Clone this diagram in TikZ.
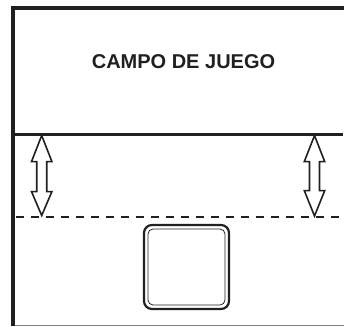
\documentclass[tikz,border=0pt]{standalone}
\usepackage{fontspec}
\setmainfont{Liberation Sans}
\definecolor{ink}{HTML}{231F20}
\begin{document}
\begin{tikzpicture}[x=1pt,y=-1pt,
  frame/.style={draw=ink,line width=4pt,line join=miter},
  fieldline/.style={draw=ink,line width=2.5pt},
  limitline/.style={draw=ink,line width=2pt,dash pattern=on 8.3pt off 6.7pt},
  hollowarrow/.style={draw=ink,line width=1.6pt,line join=miter,fill=white},
  label/.style={font=\bfseries\fontsize{20}{24}\selectfont,text=ink,inner sep=0pt,anchor=base}]
\useasboundingbox (0,0) rectangle (344,326);
\fill[white] (0,0) rectangle (344,326);
% named points
\coordinate (bl) at (13,326);
\coordinate (tl) at (13,8.3);
\coordinate (tr) at (344,8.3);
\coordinate (ml) at (13,134.6);
\coordinate (mr) at (343,134.6);
\coordinate (dl) at (15.7,216.5);
\coordinate (dr) at (344,216.5);
\coordinate (gl) at (13,325.4);
\coordinate (gr) at (344,325.4);
% lines
\draw[draw=gray,line width=1pt] (gl) -- (gr);
\draw[frame] (bl) -- (tl) -- (tr);
\draw[fieldline] (ml) -- (mr);
\draw[limitline] (dl) -- (dr);
% arrows
\foreach \cx/\ta/\hb/\hc/\tb in {41.7/135.5/161.6/191.6/215.5, 314.5/135.5/161.6/190.6/216}{
  \draw[hollowarrow] (\cx,\ta) -- (\cx+10.2,\hb) -- (\cx+5,\hb) -- (\cx+5,\hc) -- (\cx+10.2,\hc)
    -- (\cx,\tb) -- (\cx-10.2,\hc) -- (\cx-5,\hc) -- (\cx-5,\hb) -- (\cx-10.2,\hb) -- cycle;
}
% box
\draw[draw=ink,line width=2.2pt,rounded corners=8pt] (144,225) rectangle (229,309);
\draw[draw=ink,line width=0.8pt,rounded corners=5pt] (148,229) rectangle (225,305);
% text
\node[label] (title) at (183.5,69) {CAMPO DE JUEGO};
\end{tikzpicture}
\end{document}
